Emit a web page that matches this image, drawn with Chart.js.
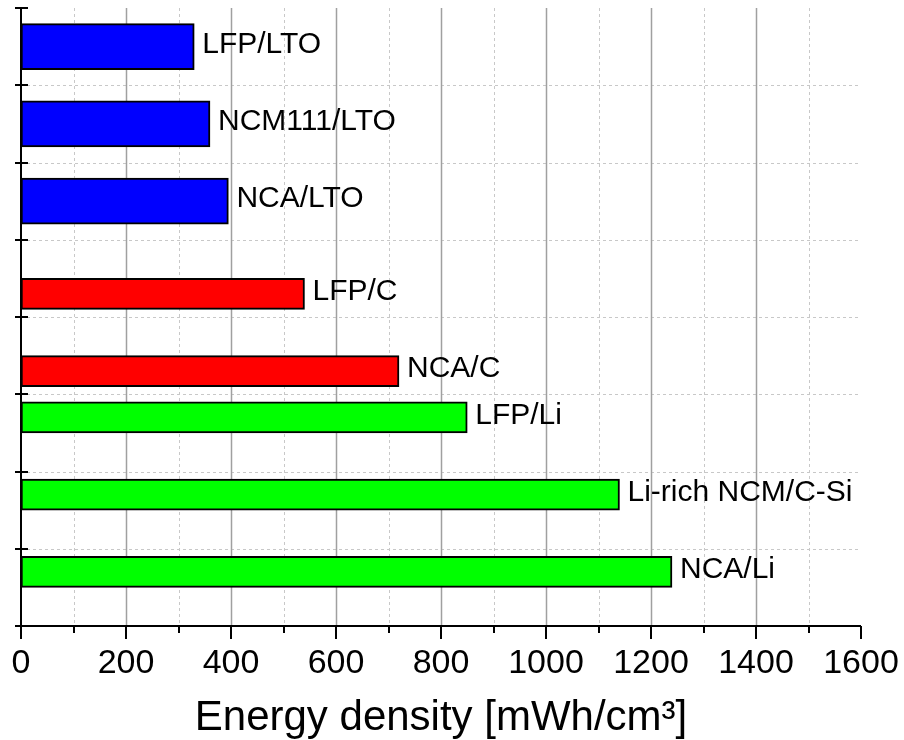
<!DOCTYPE html>
<html>
<head>
<meta charset="utf-8">
<script src="https://cdn.jsdelivr.net/npm/chart.js@4"></script>
<style>
  body { margin: 0; background: #fff; }
</style>
</head>
<body>
<canvas id="chart" width="904" height="740"></canvas>
<script>
// cell chemistries, grouped by anode type
const ltoLabels = ['LFP/LTO', 'NCM111/LTO', 'NCA/LTO'];
const ltoValues = [330, 360, 395];
const ltoRows = [0.5, 1.5, 2.5];

const carbonLabels = ['LFP/C', 'NCA/C'];
const carbonValues = [540, 720];
const carbonRows = [3.7, 4.7];

const lithiumLabels = ['LFP/Li', 'Li-rich NCM/C-Si', 'NCA/Li'];
const lithiumValues = [850, 1140, 1240];
const lithiumRows = [5.3, 6.3, 7.3];

const xTicks = [0, 200, 400, 600, 800, 1000, 1200, 1400, 1600];

const FONT = '"Liberation Sans", Arial, sans-serif';

function toPoints(values, rows) {
  return values.map((v, i) => ({ x: v, y: rows[i] }));
}

// grid lines + tick marks, drawn from the scales
const frame = {
  id: 'frame',
  beforeDatasetsDraw(chart) {
    const { ctx, chartArea: a, scales: { x, y } } = chart;
    ctx.save();
    // horizontal dotted lines
    ctx.strokeStyle = '#c8c8c8';
    ctx.lineWidth = 1;
    ctx.setLineDash([3, 3]);
    for (let v = 1; v < 8; v++) {
      const py = Math.round(y.getPixelForValue(v)) + 0.5;
      ctx.beginPath(); ctx.moveTo(a.left, py); ctx.lineTo(a.right, py); ctx.stroke();
    }
    // vertical minor (dotted) and major (solid) lines
    for (let v = 100; v < 1600; v += 100) {
      const px = Math.round(x.getPixelForValue(v)) + 0.5;
      const major = v % 200 === 0;
      ctx.setLineDash(major ? [] : [3, 3]);
      ctx.strokeStyle = major ? '#a0a0a0' : '#c8c8c8';
      ctx.lineWidth = major ? 1.5 : 1;
      ctx.beginPath(); ctx.moveTo(px, a.top); ctx.lineTo(px, a.bottom); ctx.stroke();
    }
    ctx.restore();
  },
  afterDatasetsDraw(chart) {
    const { ctx, chartArea: a, scales: { x, y } } = chart;
    ctx.save();
    ctx.strokeStyle = '#000';
    ctx.lineWidth = 2;
    ctx.setLineDash([]);
    // axes
    ctx.beginPath();
    ctx.moveTo(a.left, a.top - 1);
    ctx.lineTo(a.left, a.bottom);
    ctx.lineTo(a.right, a.bottom);
    ctx.stroke();
    // y ticks cross the axis
    for (let v = 0; v <= 8; v++) {
      const py = Math.round(y.getPixelForValue(v));
      ctx.beginPath(); ctx.moveTo(a.left - 6, py); ctx.lineTo(a.left + 7, py); ctx.stroke();
    }
    // x ticks, outward
    for (let v = 0; v <= 1600; v += 100) {
      const px = Math.round(x.getPixelForValue(v));
      const len = v % 200 === 0 ? 13 : 7;
      ctx.beginPath(); ctx.moveTo(px, a.bottom); ctx.lineTo(px, a.bottom + len); ctx.stroke();
    }
    ctx.restore();
  }
};

// text beside each bar
const barLabels = {
  id: 'barLabels',
  afterDatasetsDraw(chart) {
    const { ctx } = chart;
    ctx.save();
    ctx.font = '30px ' + FONT;
    ctx.fillStyle = '#000';
    ctx.textBaseline = 'middle';
    chart.data.datasets.forEach((ds, i) => {
      chart.getDatasetMeta(i).data.forEach((el, j) => {
        ctx.fillText(ds.names[j], el.x + 8, el.y - 2);
      });
    });
    ctx.restore();
  }
};

new Chart(document.getElementById('chart'), {
  type: 'bar',
  data: {
    datasets: [{
      names: ltoLabels,
      data: toPoints(ltoValues, ltoRows),
      backgroundColor: '#0000ff',
      barThickness: 46
    }, {
      names: carbonLabels,
      data: toPoints(carbonValues, carbonRows),
      backgroundColor: '#ff0000',
      barThickness: 31
    }, {
      names: lithiumLabels,
      data: toPoints(lithiumValues, lithiumRows),
      backgroundColor: '#00ff00',
      barThickness: 31
    }]
  },
  options: {
    indexAxis: 'y',
    responsive: false,
    animation: false,
    layout: { padding: { top: 8, right: 43, left: 0, bottom: 0 } },
    elements: {
      bar: { borderColor: '#000', borderWidth: 2, borderSkipped: false }
    },
    datasets: { bar: { grouped: false } },
    plugins: { legend: { display: false }, tooltip: { enabled: false } },
    scales: {
      y: {
        type: 'linear',
        min: 0,
        max: 8,
        reverse: true,
        offset: false,
        grid: { display: false, offset: false },
        border: { display: false },
        ticks: { display: false, stepSize: 1 },
        afterFit(scale) { scale.width = 21; }
      },
      x: {
        type: 'linear',
        min: 0,
        max: 1600,
        offset: false,
        grid: { display: false, drawTicks: false },
        border: { display: false },
        ticks: {
          stepSize: 100,
          autoSkip: false,
          maxRotation: 0,
          padding: 17,
          color: '#000',
          font: { family: FONT, size: 34 },
          callback: v => xTicks.includes(v) ? String(v) : ''
        },
        title: {
          display: true,
          text: 'Energy density [mWh/cm³]',
          color: '#000',
          font: { family: FONT, size: 42, lineHeight: 1 },
          padding: { top: 0, bottom: 1 }
        },
        afterFit(scale) {
          scale.height = 114;
          scale.paddingLeft = 0;
          scale.paddingRight = 0;
        }
      }
    }
  },
  plugins: [frame, barLabels]
});
</script>
</body>
</html>
